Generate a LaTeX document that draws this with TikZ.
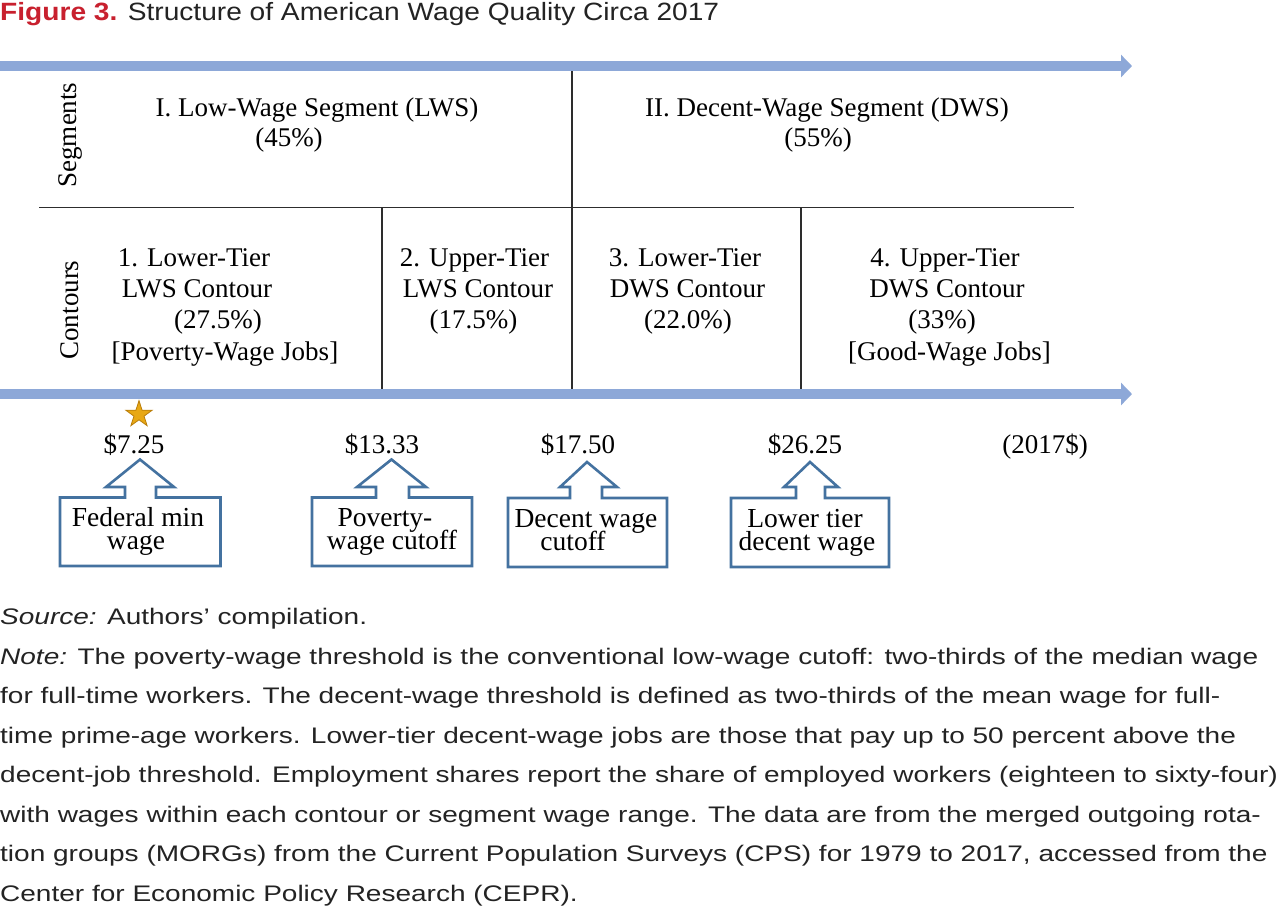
\documentclass[tikz,border=0pt]{standalone}
\usepackage{fontspec}
\setmainfont{Liberation Serif}
\newfontfamily\capfont[FakeStretch=1.245]{Liberation Sans}
\newfontfamily\titlefont[FakeStretch=1.125]{Liberation Sans}
\usetikzlibrary{arrows.meta,shapes.geometric}
\definecolor{axisblue}{RGB}{141,168,216}
\definecolor{callblue}{RGB}{68,114,160}
\definecolor{figred}{RGB}{200,32,46}
\definecolor{gridgray}{RGB}{45,45,45}
\definecolor{stargold}{RGB}{232,168,20}
\definecolor{staredge}{RGB}{185,125,10}
\definecolor{captext}{RGB}{35,35,35}
\setlength{\lineskiplimit}{-100pt}
\begin{document}
\begin{tikzpicture}[x=1pt,y=-1pt,
  axis/.style={draw=axisblue, line width=10pt, -{Triangle[length=11pt,width=22pt]}},
  gridline/.style={draw=gridgray, line width=1.3pt},
  lbl/.style={font=\fontsize{27}{32}\selectfont, inner sep=0pt, anchor=base},
  ctext/.style={font=\fontsize{27.5}{23.5}\selectfont, align=center, inner sep=0pt, anchor=base},
  callout/.style={draw=callblue, line width=2.6pt, line join=miter, fill=white},
  capline/.style={font=\capfont\fontsize{22.5}{39.5}\selectfont, text=captext, inner sep=0pt, anchor=base west},
  starmark/.style={star, star points=5, star point ratio=2.6, minimum size=27.6pt, inner sep=0pt, fill=stargold, draw=staredge, line width=0.8pt}
]
\useasboundingbox (0,0) rectangle (1280,906);
\fill[white] (0,0) rectangle (1280,906);

% title
\node[inner sep=0pt, anchor=base west, font=\titlefont\fontsize{25}{28}\selectfont, text=captext] (title) at (0,20.5)
  {{\color{figred}\bfseries Figure 3.} Structure of American Wage Quality Circa 2017};

% axes
\coordinate (top0) at (0,66);
\coordinate (top1) at (1132,66);
\coordinate (bot0) at (0,394);
\coordinate (bot1) at (1132,394);

% grid lines
\coordinate (vm0) at (572,71);
\coordinate (vm1) at (572,389);
\coordinate (h0) at (39,207.5);
\coordinate (h1) at (1074,207.5);
\coordinate (va0) at (382,207.5);
\coordinate (va1) at (382,389);
\coordinate (vb0) at (801,207.5);
\coordinate (vb1) at (801,389);
\draw[gridline] (vm0) -- (vm1);
\draw[gridline] (h0) -- (h1);
\draw[gridline] (va0) -- (va1);
\draw[gridline] (vb0) -- (vb1);

\draw[axis] (top0) -- (top1);
\draw[axis] (bot0) -- (bot1);

% row labels
\node[font=\fontsize{27}{32}\selectfont, inner sep=0pt, rotate=90] (seglab) at (70,135) {Segments};
\node[font=\fontsize{27}{32}\selectfont, inner sep=0pt, rotate=90] (conlab) at (70,310) {Contours};

% segments
\node[lbl] (s1a) at (317,116) {I. Low-Wage Segment (LWS)};
\node[lbl] (s1b) at (289,146) {(45\%)};
\node[lbl] (s2a) at (827,116) {II. Decent-Wage Segment (DWS)};
\node[lbl] (s2b) at (818,146) {(55\%)};

% contours
\node[lbl] (c1a) at (194,266) {1. Lower-Tier};
\node[lbl] (c1b) at (197,297.5) {LWS Contour};
\node[lbl] (c1c) at (218,328.5) {(27.5\%)};
\node[lbl] (c1d) at (225,360) {[Poverty-Wage Jobs]};
\node[lbl] (c2a) at (474.5,266) {2. Upper-Tier};
\node[lbl] (c2b) at (478,297.5) {LWS Contour};
\node[lbl] (c2c) at (473.5,328.5) {(17.5\%)};
\node[lbl] (c3a) at (685,266) {3. Lower-Tier};
\node[lbl] (c3b) at (687.5,297.5) {DWS Contour};
\node[lbl] (c3c) at (688,328.5) {(22.0\%)};
\node[lbl] (c4a) at (945,266) {4. Upper-Tier};
\node[lbl] (c4b) at (947,297.5) {DWS Contour};
\node[lbl] (c4c) at (942,328.5) {(33\%)};
\node[lbl] (c4d) at (949.5,360) {[Good-Wage Jobs]};

% star
\node[starmark] (star) at (139,414.5) {};

% prices
\node[lbl] (p1) at (134,453) {\$7.25};
\node[lbl] (p2) at (382,453) {\$13.33};
\node[lbl] (p3) at (578,453) {\$17.50};
\node[lbl] (p4) at (805,453) {\$26.25};
\node[lbl] (p5) at (1045,453) {(2017\$)};

% callouts
\draw[callout] (60,566) -- (60,497.5) -- (125,497.5) -- (125,487) -- (106,487) -- (140,459.5)
  -- (174,487) -- (156,487) -- (156,497.5) -- (220.5,497.5) -- (220.5,566) -- cycle;
\draw[callout] (312,566) -- (312,497.5) -- (376,497.5) -- (376,487) -- (357,487) -- (391.5,459.5)
  -- (426,487) -- (409,487) -- (409,497.5) -- (472,497.5) -- (472,566) -- cycle;
\draw[callout] (508,567) -- (508,498) -- (570,498) -- (570,487) -- (560,487) -- (587,462)
  -- (617,487) -- (602,487) -- (602,498) -- (667,498) -- (667,567) -- cycle;
\draw[callout] (731,567) -- (731,498) -- (796,498) -- (796,487) -- (784,487) -- (810,462)
  -- (838,487) -- (825,487) -- (825,498) -- (889,498) -- (889,567) -- cycle;

\node[ctext] (k1) at (138,549.5) {Federal min\\wage\hspace*{4pt}};
\node[ctext] (k2) at (392,549.5) {Poverty-\hspace*{14pt}\\wage cutoff};
\node[ctext] (k3) at (586,550.5) {Decent wage\\cutoff\hspace*{26pt}};
\node[ctext] (k4) at (807,550.5) {Lower tier\hspace*{4pt}\\decent wage};

% caption
\node[capline] (n1) at (0,624.5) {\textit{Source:} Authors’ compilation.};
\node[capline] (n2) at (0,664) {\textit{Note:} The poverty-wage threshold is the conventional low-wage cutoff: two-thirds of the median wage};
\node[capline] (n3) at (0,703.5) {for full-time workers. The decent-wage threshold is defined as two-thirds of the mean wage for full-};
\node[capline] (n4) at (0,743) {time prime-age workers. Lower-tier decent-wage jobs are those that pay up to 50 percent above the};
\node[capline] (n5) at (0,782.5) {decent-job threshold. Employment shares report the share of employed workers (eighteen to sixty-four)};
\node[capline] (n6) at (0,822) {with wages within each contour or segment wage range. The data are from the merged outgoing rota-};
\node[capline] (n7) at (0,861.5) {tion groups (MORGs) from the Current Population Surveys (CPS) for 1979 to 2017, accessed from the};
\node[capline] (n8) at (0,901) {Center for Economic Policy Research (CEPR).};
\end{tikzpicture}
\end{document}
